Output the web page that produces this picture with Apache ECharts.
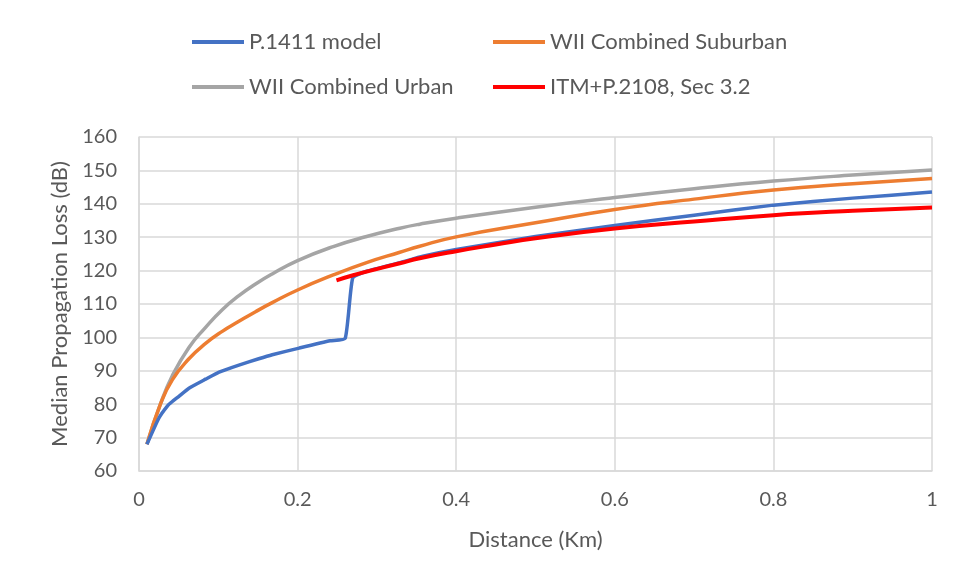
<!DOCTYPE html>
<html>
<head>
<meta charset="utf-8">
<script src="https://cdn.jsdelivr.net/npm/echarts@6/dist/echarts.min.js"></script>
<style>
    html, body { margin: 0; padding: 0; background: #fff; }
    #chart { width: 956px; height: 586px; }
</style>
</head>
<body>
<div id="chart"></div>
<script>
// Values
// ------------------------------

var seriesNames = ['P.1411 model', 'WII Combined Suburban', 'WII Combined Urban', 'ITM+P.2108, Sec 3.2'];

// WII curves share the same distances (km)
var wiiDistance = [0.01, 0.027, 0.042, 0.063, 0.084, 0.105, 0.126, 0.147, 0.168, 0.2, 0.245, 0.287, 0.329, 0.354, 0.4, 0.5, 0.6, 0.7, 0.8, 0.9, 1.0];
var wiiUrban    = [68, 80, 88.5, 97, 103, 108.3, 112.5, 116, 119, 123, 127.2, 130.2, 132.7, 133.9, 135.7, 139, 141.9, 144.5, 146.8, 148.6, 150.1];
var wiiSuburban = [68, 80, 87.3, 93.6, 98.2, 101.8, 104.8, 107.7, 110.4, 114.2, 118.7, 122.4, 125.5, 127.3, 130.1, 134.3, 138.3, 141.4, 144.1, 146, 147.6];

var p1411Distance = [0.01, 0.025, 0.036, 0.042, 0.05, 0.063, 0.084, 0.101, 0.126, 0.151, 0.168, 0.202, 0.241, 0.26, 0.2695, 0.287, 0.329, 0.358, 0.4, 0.5, 0.6, 0.7, 0.8, 0.9, 1.0];
var p1411Loss     = [68, 75.8, 79.5, 80.8, 82.3, 84.8, 87.5, 89.6, 91.7, 93.6, 94.8, 96.8, 99.0, 99.7, 117.8, 119.8, 122.4, 124.3, 126.3, 130.2, 133.5, 136.6, 139.6, 141.7, 143.5];

var itmDistance = [0.249, 0.27, 0.287, 0.329, 0.354, 0.4, 0.45, 0.5, 0.6, 0.7, 0.8, 0.9, 1.0];
var itmLoss     = [117.1, 118.6, 119.7, 122.2, 123.7, 125.8, 127.8, 129.7, 132.6, 134.7, 136.6, 137.9, 138.9];

var xTicks = { min: 0, max: 1, interval: 0.2 };
var yTicks = { min: 60, max: 160, interval: 10 };

function pairs(xs, ys) {
    return xs.map(function(x, i) { return [x, ys[i]]; });
}

var textColor = '#595959';
var gridColor = '#d9d9d9';
var fontName = 'Lato, "Open Sans", sans-serif';

var chart = echarts.init(document.getElementById('chart'));

var legendText = { fontSize: 22, color: textColor, fontFamily: fontName };

chart.setOption({
    animation: false,
    color: ['#4472c4', '#ed7d31', '#a5a5a5', '#ff0000'],
    textStyle: { fontFamily: fontName, color: textColor },

    grid: { left: 139, right: 24, top: 137, bottom: 115 },

    // two columns of two items each
    legend: [{
        orient: 'vertical',
        left: 192, top: 31,
        padding: 0,
        itemGap: 23,
        itemWidth: 52, itemHeight: 4,
        icon: 'rect',
        textStyle: legendText,
        data: [seriesNames[0], seriesNames[2]]
    }, {
        orient: 'vertical',
        left: 493, top: 31,
        padding: 0,
        itemGap: 23,
        itemWidth: 52, itemHeight: 4,
        icon: 'rect',
        textStyle: legendText,
        data: [seriesNames[1], seriesNames[3]]
    }],

    xAxis: {
        type: 'value',
        min: xTicks.min, max: xTicks.max, interval: xTicks.interval,
        name: 'Distance (Km)',
        nameLocation: 'middle',
        nameGap: 58,
        nameTextStyle: { fontSize: 22, color: textColor },
        axisLine: { lineStyle: { color: gridColor, width: 1.5 } },
        axisTick: { show: false },
        axisLabel: { fontSize: 20, color: textColor, margin: 19 },
        splitLine: { show: true, lineStyle: { color: gridColor, width: 1.5 } }
    },

    yAxis: {
        type: 'value',
        min: yTicks.min, max: yTicks.max, interval: yTicks.interval,
        name: 'Median Propagation Loss (dB)',
        nameLocation: 'middle',
        nameGap: 67,
        nameTextStyle: { fontSize: 22, color: textColor },
        axisLine: { show: true, lineStyle: { color: gridColor, width: 1.5 } },
        axisTick: { show: false },
        axisLabel: { fontSize: 20, color: textColor, margin: 22 },
        splitLine: { lineStyle: { color: gridColor, width: 1.5 } }
    },

    series: [
        {
            name: seriesNames[0],
            type: 'line',
            symbol: 'none',
            smooth: 0.15,
            lineStyle: { width: 3.5 },
            data: pairs(p1411Distance, p1411Loss),
            z: 3
        },
        {
            name: seriesNames[1],
            type: 'line',
            symbol: 'none',
            smooth: 0.5,
            lineStyle: { width: 3.5 },
            data: pairs(wiiDistance, wiiSuburban),
            z: 2
        },
        {
            name: seriesNames[2],
            type: 'line',
            symbol: 'none',
            smooth: 0.5,
            lineStyle: { width: 3.5 },
            data: pairs(wiiDistance, wiiUrban),
            z: 1
        },
        {
            name: seriesNames[3],
            type: 'line',
            symbol: 'none',
            smooth: 0.5,
            lineStyle: { width: 4 },
            data: pairs(itmDistance, itmLoss),
            z: 4
        }
    ]
});
</script>
</body>
</html>
